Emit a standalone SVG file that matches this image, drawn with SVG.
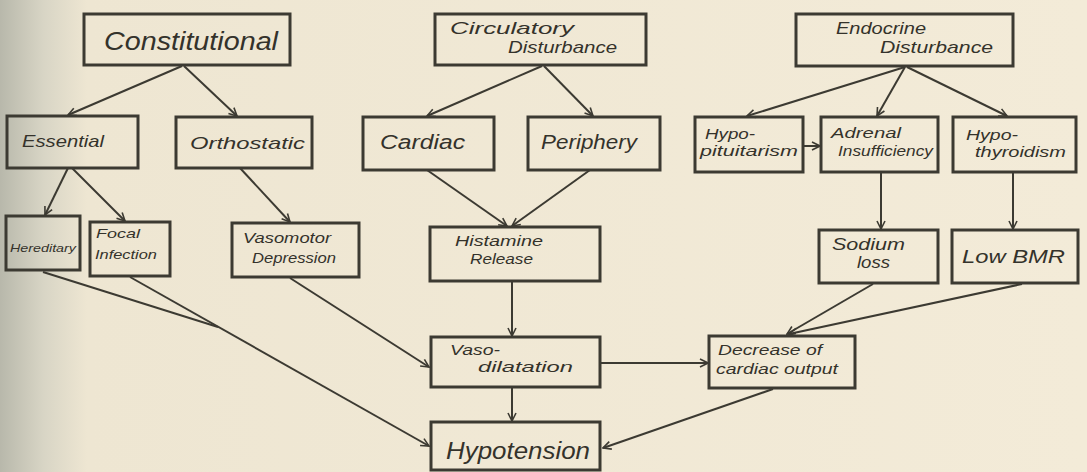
<svg xmlns="http://www.w3.org/2000/svg" width="1087" height="472" viewBox="0 0 1087 472">
<defs>
<linearGradient id="shade" x1="0" y1="0" x2="1" y2="0">
<stop offset="0" stop-color="#b8b8ab"/>
<stop offset="0.04" stop-color="#d8d5c5"/>
<stop offset="0.08" stop-color="#eee6d2"/>
<stop offset="1" stop-color="#f3ebd8"/>
</linearGradient>
<marker id="ah" viewBox="0 0 10 10" refX="9" refY="5" markerWidth="10" markerHeight="10" markerUnits="userSpaceOnUse" orient="auto">
<path d="M1,1 L9,5 L1,9" fill="none" stroke="#3c3a32" stroke-width="1.6"/>
</marker>
<style>
.box{fill:none;stroke:#3c3a32;stroke-width:3}
.t{font-family:"Liberation Sans",Arial,sans-serif;font-style:italic;fill:#34322b}
.c{fill:none;stroke:#3c3a32;stroke-width:2}
.a{marker-end:url(#ah)}
</style>
</defs>
<rect x="0" y="0" width="1087" height="472" fill="url(#shade)"/>

<g id="connectors">
<line class="c a" x1="182" y1="66" x2="68" y2="115"/>
<line class="c a" x1="184" y1="66" x2="237" y2="116"/>
<line class="c a" x1="542" y1="66" x2="427" y2="116"/>
<line class="c a" x1="544" y1="66" x2="593" y2="116"/>
<line class="c a" x1="905" y1="67" x2="747" y2="116"/>
<line class="c a" x1="905" y1="67" x2="877" y2="116"/>
<line class="c a" x1="907" y1="67" x2="1007" y2="116"/>
<line class="c a" x1="803" y1="146" x2="820" y2="146"/>
<line class="c a" x1="881" y1="172" x2="881" y2="229"/>
<line class="c a" x1="1013" y1="172" x2="1013" y2="229"/>
<line class="c a" x1="68" y1="168" x2="45" y2="215"/>
<line class="c a" x1="72" y1="168" x2="125" y2="221"/>
<line class="c a" x1="240" y1="168" x2="290" y2="222"/>
<line class="c a" x1="427" y1="170" x2="507" y2="226"/>
<line class="c a" x1="590" y1="170" x2="512" y2="226"/>
<line class="c a" x1="512" y1="281" x2="512" y2="336"/>
<line class="c a" x1="290" y1="278" x2="429" y2="367"/>
<line class="c" x1="43" y1="272" x2="218" y2="327"/>
<line class="c a" x1="130" y1="277" x2="429" y2="446"/>
<line class="c a" x1="512" y1="387" x2="512" y2="421"/>
<line class="c a" x1="600" y1="363" x2="708" y2="363"/>
<line class="c a" x1="873" y1="284" x2="787" y2="334"/>
<line class="c a" x1="1022" y1="284" x2="789" y2="334"/>
<line class="c a" x1="773" y1="389" x2="603" y2="448"/>
</g>

<g id="constitutional"><rect class="box" x="84" y="14" width="206" height="51"/><text class="t" x="104" y="50" font-size="25" textLength="174" lengthAdjust="spacingAndGlyphs">Constitutional</text></g>
<g id="circulatory"><rect class="box" x="435" y="14" width="211" height="51"/><text class="t" x="450" y="34" font-size="17" textLength="124" lengthAdjust="spacingAndGlyphs">Circulatory</text><text class="t" x="508" y="53" font-size="17" textLength="109" lengthAdjust="spacingAndGlyphs">Disturbance</text></g>
<g id="endocrine"><rect class="box" x="796" y="14" width="217" height="52"/><text class="t" x="836" y="34" font-size="16" textLength="90" lengthAdjust="spacingAndGlyphs">Endocrine</text><text class="t" x="880" y="53" font-size="17" textLength="113" lengthAdjust="spacingAndGlyphs">Disturbance</text></g>

<g id="essential"><rect class="box" x="7" y="116" width="131" height="52"/><text class="t" x="22" y="147" font-size="17" textLength="82" lengthAdjust="spacingAndGlyphs">Essential</text></g>
<g id="orthostatic"><rect class="box" x="176" y="117" width="136" height="51"/><text class="t" x="190" y="149" font-size="17" textLength="115" lengthAdjust="spacingAndGlyphs">Orthostatic</text></g>
<g id="cardiac"><rect class="box" x="363" y="117" width="131" height="53"/><text class="t" x="380" y="149" font-size="20" textLength="85" lengthAdjust="spacingAndGlyphs">Cardiac</text></g>
<g id="periphery"><rect class="box" x="528" y="117" width="132" height="53"/><text class="t" x="541" y="149" font-size="20" textLength="96" lengthAdjust="spacingAndGlyphs">Periphery</text></g>
<g id="hypopituitarism"><rect class="box" x="695" y="117" width="108" height="55"/><text class="t" x="705" y="139" font-size="15" textLength="50" lengthAdjust="spacingAndGlyphs">Hypo-</text><text class="t" x="700" y="156" font-size="15" textLength="98" lengthAdjust="spacingAndGlyphs">pituitarism</text></g>
<g id="adrenal"><rect class="box" x="821" y="117" width="117" height="55"/><text class="t" x="831" y="138" font-size="15" textLength="70" lengthAdjust="spacingAndGlyphs">Adrenal</text><text class="t" x="838" y="156" font-size="15" textLength="95" lengthAdjust="spacingAndGlyphs">Insufficiency</text></g>
<g id="hypothyroidism"><rect class="box" x="953" y="117" width="123" height="55"/><text class="t" x="966" y="140" font-size="15" textLength="52" lengthAdjust="spacingAndGlyphs">Hypo-</text><text class="t" x="975" y="157" font-size="15" textLength="91" lengthAdjust="spacingAndGlyphs">thyroidism</text></g>

<g id="hereditary"><rect class="box" x="6" y="216" width="74" height="54"/><text class="t" x="10" y="252" font-size="11" textLength="66" lengthAdjust="spacingAndGlyphs">Hereditary</text></g>
<g id="focal"><rect class="box" x="90" y="222" width="80" height="54"/><text class="t" x="96" y="238" font-size="13" textLength="44" lengthAdjust="spacingAndGlyphs">Focal</text><text class="t" x="95" y="259" font-size="13" textLength="62" lengthAdjust="spacingAndGlyphs">Infection</text></g>
<g id="vasomotor"><rect class="box" x="232" y="223" width="127" height="54"/><text class="t" x="243" y="243" font-size="15" textLength="88" lengthAdjust="spacingAndGlyphs">Vasomotor</text><text class="t" x="252" y="263" font-size="15" textLength="84" lengthAdjust="spacingAndGlyphs">Depression</text></g>
<g id="histamine"><rect class="box" x="430" y="227" width="170" height="54"/><text class="t" x="455" y="246" font-size="15" textLength="88" lengthAdjust="spacingAndGlyphs">Histamine</text><text class="t" x="470" y="264" font-size="15" textLength="63" lengthAdjust="spacingAndGlyphs">Release</text></g>
<g id="sodium"><rect class="box" x="819" y="230" width="119" height="53"/><text class="t" x="832" y="250" font-size="16" textLength="73" lengthAdjust="spacingAndGlyphs">Sodium</text><text class="t" x="857" y="268" font-size="16" textLength="33" lengthAdjust="spacingAndGlyphs">loss</text></g>
<g id="lowbmr"><rect class="box" x="952" y="230" width="126" height="53"/><text class="t" x="962" y="263" font-size="18" textLength="103" lengthAdjust="spacingAndGlyphs">Low BMR</text></g>

<g id="vasodilatation"><rect class="box" x="431" y="337" width="169" height="50"/><text class="t" x="450" y="355" font-size="15" textLength="50" lengthAdjust="spacingAndGlyphs">Vaso-</text><text class="t" x="478" y="372" font-size="15" textLength="95" lengthAdjust="spacingAndGlyphs">dilatation</text></g>
<g id="decrease"><rect class="box" x="709" y="336" width="146" height="52"/><text class="t" x="718" y="355" font-size="14" textLength="104" lengthAdjust="spacingAndGlyphs">Decrease  of</text><text class="t" x="716" y="374" font-size="14" textLength="122" lengthAdjust="spacingAndGlyphs">cardiac output</text></g>
<g id="hypotension"><rect class="box" x="431" y="422" width="169" height="48"/><text class="t" x="446" y="459" font-size="24" textLength="144" lengthAdjust="spacingAndGlyphs">Hypotension</text></g>
</svg>
